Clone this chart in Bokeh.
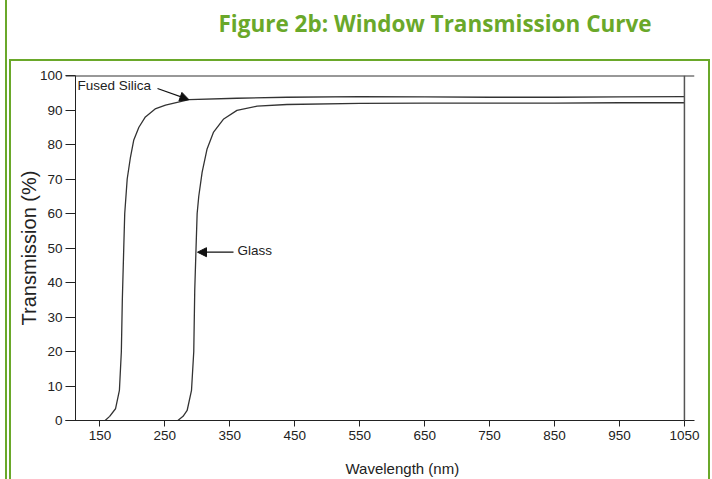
from bokeh.plotting import figure
from bokeh.layouts import column
from bokeh.models import (Range1d, Span, Label, Arrow, NormalHead, FixedTicker,
                          InlineStyleSheet)
from bokeh.embed import file_html
from bokeh.resources import INLINE

# ---- data ----
silica_wl = [158, 165, 174, 180, 183, 184.5, 186.7, 188.2, 192, 197, 202, 210, 220, 235, 251, 287, 361, 438, 550, 650, 750, 850, 950, 1050]
silica_t = [0, 1.2, 3.4, 8.7, 20, 35, 50, 60, 70, 76.3, 81.2, 85, 88, 90.3, 91.4, 93.0, 93.4, 93.7, 93.9, 93.8, 93.7, 93.7, 93.8, 93.9]
glass_wl = [270, 278, 284.3, 291, 294.5, 296, 298, 299.7, 302.2, 307.4, 315, 325, 340.6, 361, 392, 438, 550, 650, 750, 850, 950, 1050]
glass_t = [0, 1.2, 2.9, 8.7, 20, 37.7, 50, 60, 65, 72, 78.7, 83.6, 87.4, 89.9, 91.1, 91.6, 91.9, 92.0, 92.0, 92.0, 92.1, 92.1]
x_ticks = [150, 250, 350, 450, 550, 650, 750, 850, 950, 1050]
y_ticks = [0, 10, 20, 30, 40, 50, 60, 70, 80, 90, 100]
title_text = "Figure 2b: Window Transmission Curve"
x_label = "Wavelength  (nm)"
y_label = "Transmission (%)"

# ---- layout constants (page pixels) ----
W, H = 712, 479
HEAD_H = 40                  # header strip holding the title
FOOT_TOP = 450               # footer strip holding the x label
FL, FR, FT, FB = 65, 694, 75, 420          # plot frame edges
X0, X1 = 97.0, 1065.5
Y0, Y1 = 0.0, 100.0
GREEN = "#6aa82a"
INK = "#222222"
SANS = "Liberation Sans"


def dx(px):
    return X0 + (px - FL) * (X1 - X0) / (FR - FL)


def dy(py):
    return Y0 + (FB - py) * (Y1 - Y0) / (FB - FT)


def strip(height):
    # the column aligns this strip's frame with the chart frame (FL..FR),
    # so its x range is expressed in page pixels over that span
    f = figure(width=W, height=height, x_range=Range1d(FL, FR), y_range=Range1d(0, height),
               output_backend="svg", toolbar_location=None,
               x_axis_location=None, y_axis_location=None,
               min_border=0, min_border_left=0, min_border_right=0,
               min_border_top=0, min_border_bottom=0)
    f.grid.visible = False
    f.outline_line_color = None
    f.background_fill_color = "white"
    f.border_fill_color = "white"
    return f


# ---- header with the green title ----
head = strip(HEAD_H)
head.add_layout(Label(x=218, y=HEAD_H - 23, text=title_text, text_font="Open Sans",
                      text_font_style="bold", text_font_size="22.5px", text_color=GREEN,
                      text_align="left", text_baseline="alphabetic"))

# ---- main chart ----
MAIN_H = FOOT_TOP - HEAD_H
p = figure(width=W, height=MAIN_H, x_range=Range1d(X0, X1), y_range=Range1d(Y0, Y1),
           output_backend="svg", toolbar_location=None,
           min_border_left=FL, min_border_right=W - FR,
           min_border_top=FT - HEAD_H, min_border_bottom=FOOT_TOP - FB)
p.grid.visible = False
p.outline_line_color = None
p.background_fill_color = "white"
p.border_fill_color = "white"

xa = p.xaxis[0]
xa.ticker = FixedTicker(ticks=x_ticks)
xa.major_tick_out = 6
xa.major_tick_in = 0
xa.minor_tick_line_color = None
xa.axis_line_color = INK
xa.major_tick_line_color = INK
xa.major_label_standoff = 4
xa.major_label_text_font = SANS
xa.major_label_text_font_size = "13.5px"
xa.major_label_text_color = INK

ya = p.yaxis[0]
ya.ticker = FixedTicker(ticks=y_ticks)
ya.axis_line_color = None
ya.major_tick_in = 10
ya.major_tick_out = 0
ya.minor_tick_line_color = None
ya.major_tick_line_color = INK
ya.major_label_standoff = 3
ya.major_label_text_font = SANS
ya.major_label_text_font_size = "13.5px"
ya.major_label_text_color = INK
ya.axis_label = y_label
ya.axis_label_text_font = SANS
ya.axis_label_text_font_style = "normal"
ya.axis_label_text_font_size = "20px"
ya.axis_label_text_color = INK
ya.axis_label_standoff = -3

# frame lines
p.add_layout(Span(location=dx(75), dimension="height", line_color=INK, line_width=1))
p.add_layout(Span(location=Y1, dimension="width", line_color="#333333", line_width=2))
p.add_layout(Span(location=x_ticks[-1], dimension="height", line_color="#555555", line_width=1.5))

# curves
p.line(silica_wl, silica_t, line_color="#333333", line_width=1.3)
p.line(glass_wl, glass_t, line_color="#333333", line_width=1.3)

# annotations (label y = vertical centre of the capitals)
p.add_layout(Arrow(end=NormalHead(size=9, fill_color="#111111", line_color="#111111", line_width=1),
                   x_start=dx(157), y_start=dy(88), x_end=silica_wl[15], y_end=silica_t[15],
                   line_color="#111111", line_width=1.2))
p.add_layout(Arrow(end=NormalHead(size=9, fill_color="#111111", line_color="#111111", line_width=1),
                   x_start=dx(233), y_start=dy(251.7), x_end=dx(197), y_end=dy(251.7),
                   line_color="#111111", line_width=1.2))
p.add_layout(Label(x=dx(77), y=dy(85), text="Fused Silica", text_font=SANS,
                   text_font_size="13.5px", text_color=INK, text_baseline="alphabetic"))
p.add_layout(Label(x=dx(237), y=dy(250), text="Glass", text_font=SANS,
                   text_font_size="13.5px", text_color=INK, text_baseline="alphabetic"))

# ---- footer with the x-axis label ----
FOOT_H = H - FOOT_TOP
foot = strip(FOOT_H)
foot.add_layout(Label(x=345, y=FOOT_H - (467.5 - FOOT_TOP), text=x_label, text_font=SANS,
                      text_font_size="15px", text_color=INK, text_align="left",
                      text_baseline="alphabetic"))

# ---- green page frame drawn with CSS over the whole column ----
css = f"""
:host {{ position: relative; overflow: visible; }}
:host::before {{
  content: ""; position: absolute; z-index: 100; pointer-events: none;
  left: 4.8px; top: 0px; width: 2.5px; height: {H}px;
  background: {GREEN};
}}
:host::after {{
  content: ""; position: absolute; z-index: 100; pointer-events: none;
  left: 8.75px; top: 59px; width: 701.5px; height: {H - 59}px;
  box-sizing: border-box; border: 2.5px solid {GREEN}; border-bottom: none;
}}
"""
layout = column(head, p, foot, spacing=0)
layout.stylesheets = [InlineStyleSheet(css=css)]

open("out.html", "w").write(file_html(layout, INLINE))
